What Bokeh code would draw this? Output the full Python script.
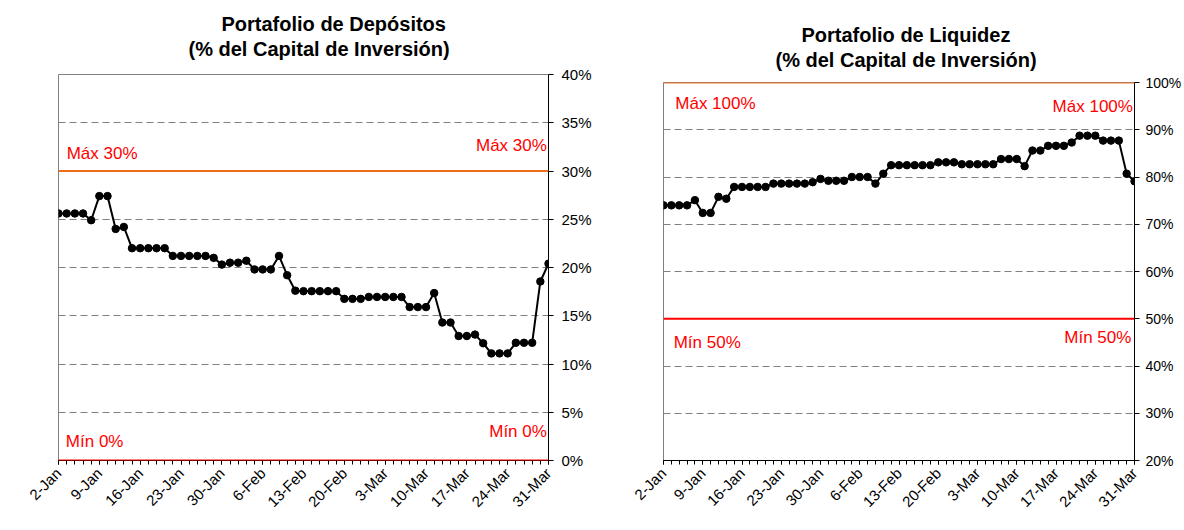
import math
from bokeh.plotting import figure
from bokeh.models import FixedTicker, PrintfTickFormatter, Span, Label, Title, Range1d
from bokeh.layouts import row, column
from bokeh.embed import file_html
from bokeh.resources import INLINE

# ---------------- data ----------------
tick_labels = ["2-Jan", "9-Jan", "16-Jan", "23-Jan", "30-Jan", "6-Feb", "13-Feb",
               "20-Feb", "3-Mar", "10-Mar", "17-Mar", "24-Mar", "31-Mar"]

depositos = [25.6, 25.6, 25.6, 25.6, 24.9, 27.4, 27.4, 24.0, 24.2,
             22.0, 22.0, 22.0, 22.0, 22.0,
             21.2, 21.2, 21.2, 21.2, 21.2, 21.0, 20.3, 20.5, 20.5, 20.7,
             19.8, 19.8, 19.8, 21.2, 19.2, 17.6,
             17.55, 17.55, 17.55, 17.55, 17.55,
             16.75, 16.75, 16.75, 16.95, 16.95, 16.95, 16.95, 16.95,
             15.9, 15.9, 15.9, 17.35, 14.3, 14.3, 12.9, 12.9, 13.05, 12.15,
             11.1, 11.1, 11.1, 12.2, 12.2, 12.2, 18.55, 20.4]

liquidez = [74.0, 74.0, 74.0, 74.0, 75.1, 72.4, 72.4, 75.8, 75.4,
            77.9, 77.9, 77.9, 77.9, 77.9,
            78.6, 78.6, 78.6, 78.6, 78.6, 78.9, 79.6, 79.2, 79.2, 79.2,
            80.0, 80.0, 80.0, 78.6, 80.7,
            82.5, 82.5, 82.5, 82.5, 82.5, 82.5,
            83.1, 83.1, 83.1, 82.7, 82.7, 82.7, 82.7, 82.7,
            83.8, 83.8, 83.8, 82.3, 85.6, 85.6, 86.6, 86.6, 86.6, 87.3,
            88.75, 88.75, 88.75, 87.7, 87.7, 87.7, 80.7, 79.1]

dep_max, dep_min = 30, 0
liq_max, liq_min = 100, 50

FONT = "Liberation Sans"
ORANGE = "#EE6E1E"
RED = "#FF0000"


def make_chart(values, title1, title2, y0, y1, ystep, vmax, vmin, width, height,
               bl, br, bt, bb, lbls, off1, off2, spacer, yfs, ystandoff):
    n = len(values)
    xs = list(range(n))
    p = figure(width=width, height=height, x_range=Range1d(0, n - 1),
               y_range=Range1d(y0, y1), y_axis_location="right",
               output_backend="svg", toolbar_location=None,
               min_border_left=bl, min_border_right=br,
               min_border_top=bt, min_border_bottom=bb,
               background_fill_color="white", border_fill_color="white")
    p.title.text = title1
    p.title.align = "left"
    p.title.offset = off1
    p.title.text_font = FONT
    p.title.text_font_size = "20px"
    p.title.text_font_style = "bold"
    p.title.text_color = "black"
    p.title.standoff = 0
    # spacer between the title block and the plot frame
    p.add_layout(Title(text=" ", text_font_size="1px", standoff=spacer), "above")
    t2 = Title(text=title2, align="left", offset=off2, text_font=FONT,
               text_font_size="20px", text_font_style="bold", text_color="black",
               standoff=3)
    p.add_layout(t2, "above")

    p.outline_line_color = "#808080"
    p.outline_line_width = 1
    p.xgrid.visible = False
    p.ygrid.ticker = FixedTicker(ticks=list(range(y0, y1 + 1, ystep)))
    p.ygrid.grid_line_color = "#808080"
    p.ygrid.grid_line_dash = "7 4"
    p.ygrid.grid_line_width = 1

    ya = p.yaxis[0]
    ya.ticker = FixedTicker(ticks=list(range(y0, y1 + 1, ystep)))
    ya.formatter = PrintfTickFormatter(format="%d%%")
    ya.axis_line_color = "black"
    ya.axis_line_width = 1
    ya.major_tick_line_color = "black"
    ya.major_tick_out = 5
    ya.major_tick_in = 0
    ya.minor_tick_line_color = None
    ya.major_label_text_font = FONT
    ya.major_label_text_font_size = yfs
    ya.major_label_text_color = "black"
    ya.major_label_standoff = ystandoff

    xa = p.xaxis[0]
    xa.ticker = FixedTicker(ticks=list(range(0, n, 5)), minor_ticks=xs)
    xa.major_label_overrides = {i * 5: lab for i, lab in enumerate(tick_labels)}
    xa.major_label_orientation = math.pi / 4
    xa.axis_line_color = "black"
    xa.major_tick_line_color = "black"
    xa.minor_tick_line_color = "black"
    xa.major_tick_out = 4
    xa.major_tick_in = 0
    xa.minor_tick_out = 4
    xa.minor_tick_in = 0
    xa.major_label_text_font = FONT
    xa.major_label_text_font_size = "15px"
    xa.major_label_text_color = "black"
    xa.major_label_standoff = 6

    p.add_layout(Span(location=vmax, dimension="width", line_color=ORANGE, line_width=2))
    p.add_layout(Span(location=vmin, dimension="width", line_color=RED, line_width=2))

    p.line(xs, values, line_color="black", line_width=2)
    p.scatter(xs, values, size=7.5, fill_color="black", line_color="black")

    for (lx, ly, txt, al) in lbls:
        p.add_layout(Label(x=lx, y=ly, text=txt, text_color=RED, text_font=FONT,
                           text_font_size="17px", text_baseline="middle", text_align=al))
    return p


n = len(depositos)
left = make_chart(depositos, "Portafolio de Depósitos", "(% del Capital de Inversión)",
                  0, 40, 5, dep_max, dep_min, 600, 530, 58, 52, 74, 70,
                  [(1.0, dep_max + 1.8, "Máx 30%", "left"),
                   (n - 1.2, dep_max + 2.6, "Máx 30%", "right"),
                   (0.9, dep_min + 2.0, "Mín 0%", "left"),
                   (n - 1.2, dep_min + 3.0, "Mín 0%", "right")],
                  163, 130, 10, "15px", 8)

right = make_chart(liquidez, "Portafolio de Liquidez", "(% del Capital de Inversión)",
                   20, 100, 10, liq_max, liq_min, 584, 530, 63, 50, 82, 70,
                   [(1.5, liq_max - 4.5, "Máx 100%", "left"),
                    (n - 1.2, liq_max - 5.1, "Máx 100%", "right"),
                    (1.3, liq_min - 5.0, "Mín 50%", "left"),
                    (n - 1.4, liq_min - 4.0, "Mín 50%", "right")],
                   138, 112, 7, "14px", 6)

layout = row(column(left), column(right))
open("out.html", "w").write(file_html(layout, INLINE))
